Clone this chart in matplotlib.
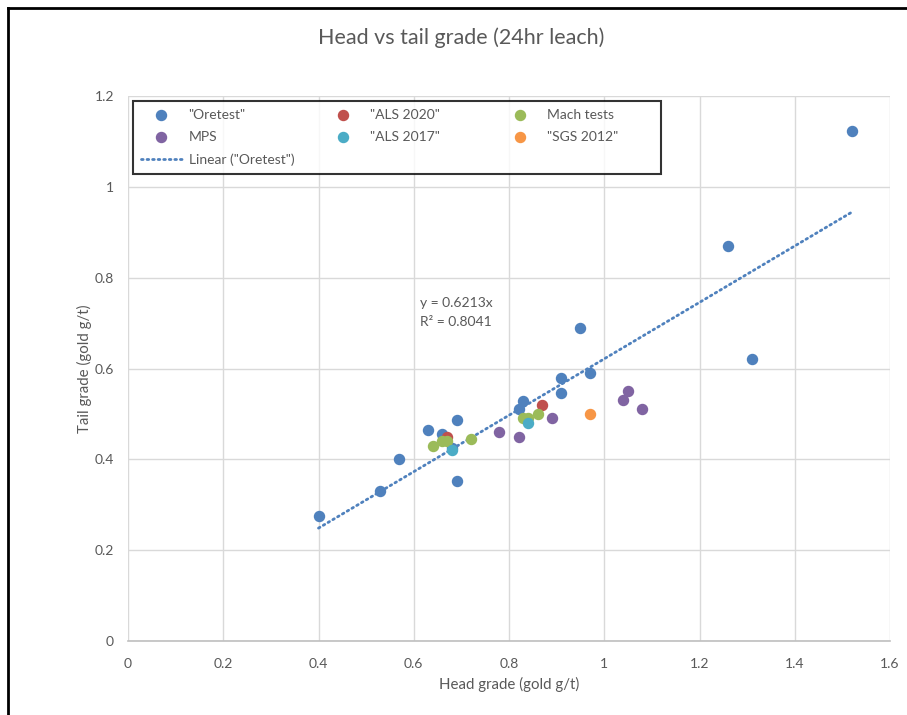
import numpy as np
import matplotlib.pyplot as plt
from matplotlib.lines import Line2D

plt.rcParams['font.family'] = ['Lato', 'DejaVu Sans']

# head grade / tail grade (gold g/t) per source
oretest_x = [0.40, 0.53, 0.57, 0.63, 0.66, 0.68, 0.69, 0.69, 0.82, 0.83, 0.91, 0.91, 0.95, 0.97, 1.26, 1.31, 1.52]
oretest_y = [0.275, 0.33, 0.40, 0.465, 0.455, 0.425, 0.486, 0.352, 0.51, 0.528, 0.545, 0.578, 0.689, 0.59, 0.87, 0.62, 1.123]

als2020_x = [0.67, 0.87]
als2020_y = [0.45, 0.52]

mach_x = [0.64, 0.66, 0.67, 0.72, 0.83, 0.84, 0.86]
mach_y = [0.43, 0.44, 0.44, 0.444, 0.49, 0.49, 0.50]

mps_x = [0.78, 0.82, 0.89, 1.04, 1.05, 1.08]
mps_y = [0.46, 0.45, 0.49, 0.53, 0.55, 0.51]

als2017_x = [0.68, 0.84]
als2017_y = [0.42, 0.48]

sgs2012_x = [0.97]
sgs2012_y = [0.50]

slope = 0.6213
r2 = 0.8041

grey = '#595959'

fig = plt.figure(figsize=(9.07, 7.15), dpi=100)
ax = fig.add_axes([128/907, 74/715, 762/907, 545/715])

ms = 52
# trailing spaces keep the legend columns about equally wide, like Excel does
pad2 = ' ' * 9
pad3 = ' ' * 10
h_ore = ax.scatter(oretest_x, oretest_y, s=ms, color='#4F81BD', zorder=3, label='"Oretest"')
h_a20 = ax.scatter(als2020_x, als2020_y, s=ms, color='#C0504D', zorder=3, label='"ALS 2020"' + pad2)
h_mach = ax.scatter(mach_x, mach_y, s=ms, color='#9BBB59', zorder=3, label='Mach tests' + pad3)
h_mps = ax.scatter(mps_x, mps_y, s=ms, color='#8064A2', zorder=3, label='MPS')
h_a17 = ax.scatter(als2017_x, als2017_y, s=ms, color='#4BACC6', zorder=3, label='"ALS 2017"' + pad2)
h_sgs = ax.scatter(sgs2012_x, sgs2012_y, s=ms, color='#F79646', zorder=3, label='"SGS 2012"' + pad3)

tx = np.array([min(oretest_x), max(oretest_x)])
h_lin, = ax.plot(tx, slope * tx, color='#4F81BD', lw=2, ls=(0, (0.6, 1.4)),
                 dash_capstyle='round', zorder=2, label='Linear ("Oretest")')

ax.text(0.613, 0.744, 'y = %.4fx' % slope, color=grey, fontsize=10, va='center')
ax.text(0.613, 0.703, 'R² = %.4f' % r2, color=grey, fontsize=10, va='center')

ax.set_xlim(0, 1.6)
ax.set_ylim(0, 1.2)
ax.set_xticks(np.arange(0, 1.61, 0.2))
ax.set_yticks(np.arange(0, 1.21, 0.2))
ax.set_xticklabels(['0', '0.2', '0.4', '0.6', '0.8', '1', '1.2', '1.4', '1.6'])
ax.set_yticklabels(['0', '0.2', '0.4', '0.6', '0.8', '1', '1.2'])
ax.grid(True, color='#d9d9d9', lw=1)
ax.set_axisbelow(True)
for s in ['top', 'right', 'left']:
    ax.spines[s].set_visible(False)
ax.spines['bottom'].set_color('#bfbfbf')
ax.spines['bottom'].set_linewidth(1.2)
ax.tick_params(length=0, colors=grey, labelsize=10)
ax.tick_params(axis='x', pad=12)
ax.tick_params(axis='y', pad=10)

ax.set_xlabel('Head grade (gold g/t)', color=grey, fontsize=10.8, labelpad=5)
ax.set_ylabel('Tail grade (gold g/t)', color=grey, fontsize=10.8, labelpad=2)

fig.text(0.508, 0.947, 'Head vs tail grade (24hr leach)', color=grey, fontsize=15.5,
         ha='center', va='center')

handles = [h_ore, h_mps, h_lin, h_a20, h_a17, h_mach, h_sgs]
leg = ax.legend(handles=handles, ncol=3, loc='upper left',
                bbox_to_anchor=(5/762, 1 - 5/545), borderaxespad=0,
                frameon=True, fancybox=False, fontsize=10, labelcolor=grey,
                handlelength=3.0, columnspacing=2.0, labelspacing=0.75,
                borderpad=0.55, handletextpad=0.45)
leg.get_frame().set_edgecolor('black')
leg.get_frame().set_linewidth(1.5)

# outer chart frame
fig.add_artist(Line2D([8/907, 8/907], [0, 1 - 8/715], color='black', lw=2))
fig.add_artist(Line2D([8/907, 1], [1 - 8/715, 1 - 8/715], color='black', lw=2))

fig.savefig('out.png', dpi=100)
